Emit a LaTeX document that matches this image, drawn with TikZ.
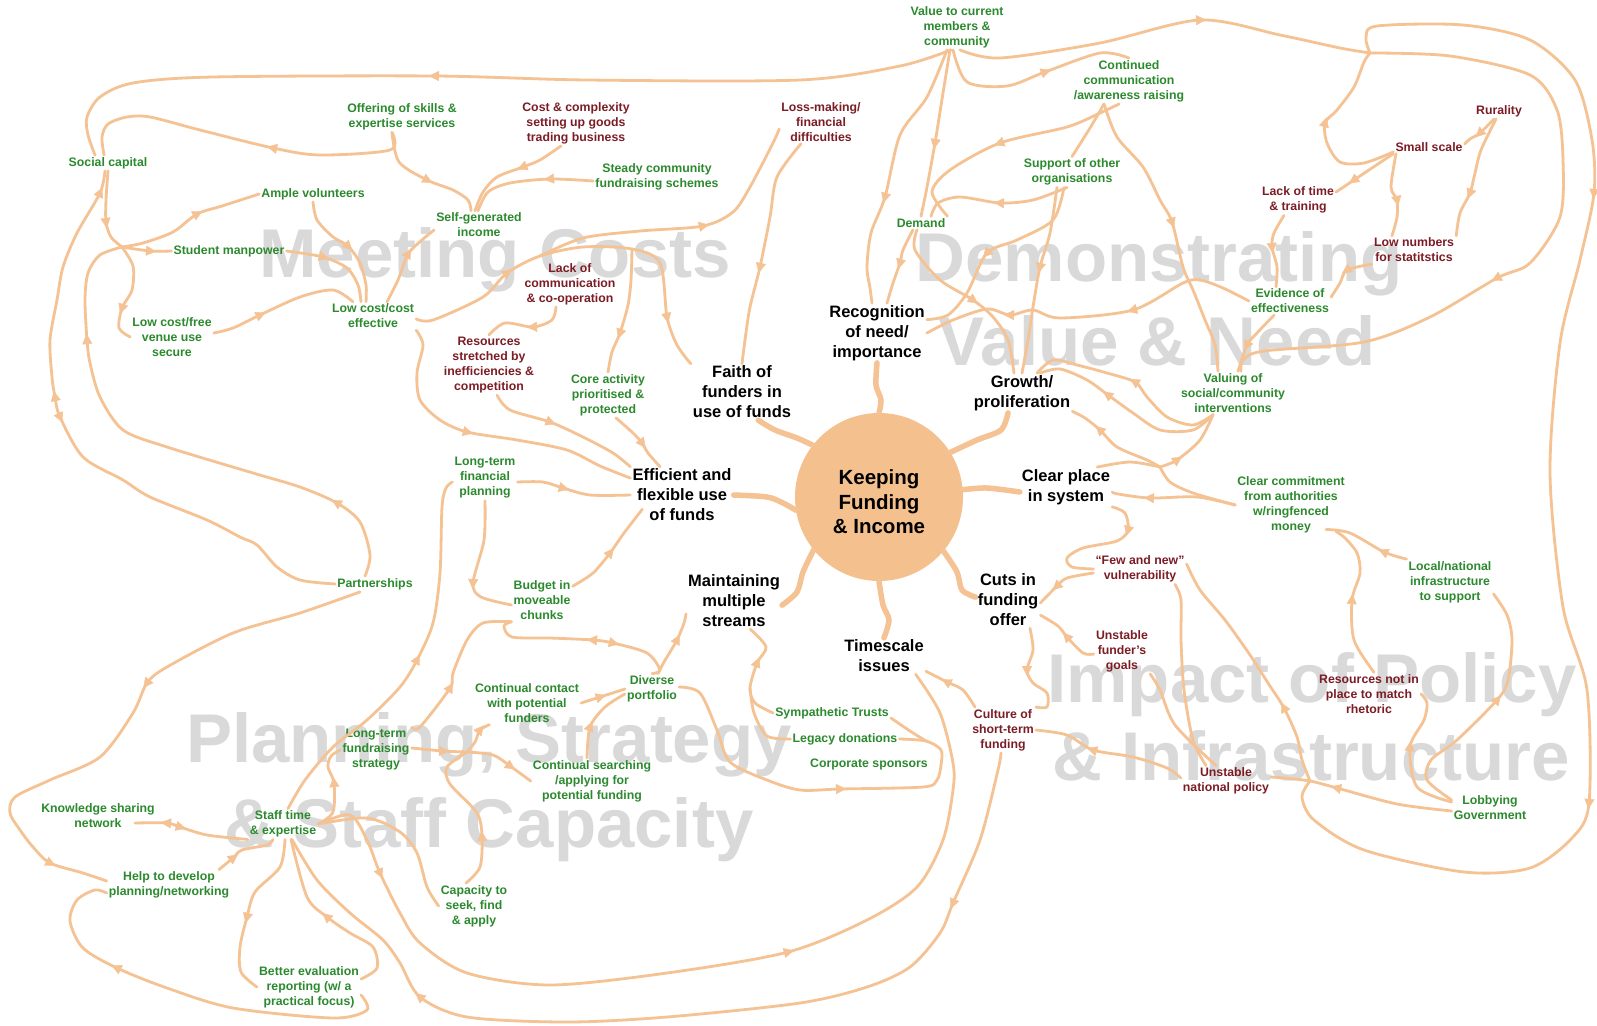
\documentclass[tikz,border=0pt]{standalone}
\usepackage{fontspec}
\setmainfont{Liberation Sans}
\usetikzlibrary{arrows.meta,calc}
\definecolor{gtext}{HTML}{2C8A2E}
\definecolor{rtext}{HTML}{7C1D26}
\definecolor{curve}{HTML}{F5C293}
\definecolor{hubc}{HTML}{F4C08E}
\definecolor{wmark}{HTML}{D9D9D9}
\newcommand\lblS{\fontsize{12.3}{15}\selectfont\bfseries}
\newcommand\lblB{\fontsize{16.5}{20}\selectfont\bfseries}
\newcommand\lblH{\fontsize{20.5}{24.5}\selectfont\bfseries}
\newcommand\lblW{\fontsize{69}{80}\selectfont\bfseries}
\tikzset{
  gl/.style={text=gtext,font=\lblS,align=center,inner sep=2pt},
  rl/.style={text=rtext,font=\lblS,align=center,inner sep=2pt},
  bl/.style={text=black,font=\lblB,align=center,inner sep=2pt},
  wm/.style={text=wmark,font=\lblW,inner sep=0pt,anchor=base},
  conn/.style={draw=curve,line width=2.8pt,line cap=round,line join=round},
  tent/.style={draw=curve,line width=5.5pt,line cap=round,line join=round},
  tipst/.style={draw=curve,fill=curve,line width=0.4pt,-{Triangle[length=10pt,width=10pt]}},
}
\newcommand\tip[3]{\draw[tipst] let \p1=#1, \p2=#2, \p3=#3, \n1={atan2((\y3)-(\y1),(\x3)-(\x1))} in (\p2) -- ++(\n1:6pt);}
\begin{document}
\begin{tikzpicture}[x=1pt,y=-1pt]
\useasboundingbox (0,0) rectangle (1597,1025);
\fill[white] (0,0) rectangle (1597,1025);
% watermarks
\node[wm] (w1) at (495,277) {Meeting Costs};
\node[wm] (w2) at (1159,281) {Demonstrating};
\node[wm] (w3) at (1157,365) {Value \& Need};
\node[wm] (w4) at (489,762) {Planning, Strategy};
\node[wm] (w5) at (489,847) {\& Staff Capacity};
\node[wm] (w6) at (1312,702) {Impact of Policy};
\node[wm] (w7) at (1311,780) {\& Infrastructure};
% labels
\node[gl] (sc) at (108,163) {Social capital};
\node[gl] (av) at (313,194) {Ample volunteers};
\node[gl] (sm) at (229,251) {Student manpower};
\node[gl] (lcv) at (172,337) {Low cost/free\\venue use\\secure};
\node[gl] (lcc) at (373,316) {Low cost/cost\\effective};
\node[gl] (off) at (402,117) {Offering of skills \&\\expertise services};
\node[rl] (cost) at (576,123) {Cost \& complexity\\setting up goods\\trading business};
\node[gl] (steady) at (657,177) {Steady community\\fundraising schemes};
\node[gl] (sg) at (479,225) {Self-generated\\income};
\node[rl] (lcom) at (570,284) {Lack of\\communication\\\& co-operation};
\node[rl] (loss) at (821,122) {Loss-making/\\financial\\difficulties};
\node[gl] (val) at (957,27) {Value to current\\members \&\\community};
\node[gl] (cont) at (1129,81) {Continued\\communication\\/awareness raising};
\node[gl] (sup) at (1072,172) {Support of other\\organisations};
\node[gl] (dem) at (921,223) {Demand};
\node[bl] (rec) at (877,333) {Recognition\\of need/\\importance};
\node[rl] (rur) at (1499,111) {Rurality};
\node[rl] (ss) at (1429,147) {Small scale};
\node[rl] (lot) at (1298,200) {Lack of time\\\& training};
\node[rl] (lown) at (1414,250) {Low numbers\\for statitstics};
\node[gl] (evi) at (1290,301) {Evidence of\\effectiveness};
\node[gl] (valu) at (1233,393) {Valuing of\\social/community\\interventions};
\node[gl] (ccom) at (1291,505) {Clear commitment\\from authorities\\w/ringfenced\\money};
\node[gl] (lni) at (1450,582) {Local/national\\infrastructure\\to support};
\node[rl] (rnp) at (1369,694) {Resources not in\\place to match\\rhetoric};
\node[gl] (lob) at (1490,808) {Lobbying\\Government};
\node[rl] (unp) at (1226,781) {Unstable\\national policy};
\node[bl] (grow) at (1022,393) {Growth/\\proliferation};
\node[circle,fill=hubc,minimum size=168pt,inner sep=0pt] (hub) at (879,497) {};
\node[font=\lblH,align=center,inner sep=0pt] (hubt) at (879,502) {Keeping\\Funding\\\& Income};
\node[bl] (clr) at (1066,487) {Clear place\\in system};
\node[bl] (cuts) at (1008,600) {Cuts in\\funding\\offer};
\node[bl] (time) at (884,656) {Timescale\\issues};
\node[rl] (few) at (1140,569) {“Few and new”\\vulnerability};
\node[rl] (uf) at (1122,651) {Unstable\\funder’s\\goals};
\node[bl] (faith) at (742,392) {Faith of\\funders in\\use of funds};
\node[rl] (rs) at (489,365) {Resources\\stretched by\\inefficiencies \&\\competition};
\node[gl] (core) at (608,395) {Core activity\\prioritised \&\\protected};
\node[bl] (eff) at (682,495) {Efficient and\\flexible use\\of funds};
\node[gl] (ltf) at (485,478) {Long-term\\financial\\planning};
\node[gl] (bud) at (542,600) {Budget in\\moveable\\chunks};
\node[bl] (main) at (734,601) {Maintaining\\multiple\\streams};
\node[gl] (part) at (375,584) {Partnerships};
\node[gl] (div) at (652,689) {Diverse\\portfolio};
\node[gl] (ccp) at (527,703) {Continual contact\\with potential\\funders};
\node[gl] (csr) at (592,781) {Continual searching\\/applying for\\potential funding};
\node[gl] (cap) at (474,906) {Capacity to\\seek, find\\\& apply};
\node[gl] (ltfs) at (376,750) {Long-term\\fundraising\\strategy};
\node[gl] (ksn) at (98,816) {Knowledge sharing\\network};
\node[gl] (staff) at (283,824) {Staff time\\\& expertise};
\node[gl] (help) at (169,885) {Help to develop\\planning/networking};
\node[gl] (bev) at (309,987) {Better evaluation\\reporting (w/ a\\practical focus)};
\node[gl] (sym) at (832,713) {Sympathetic Trusts};
\node[gl] (leg) at (845,739) {Legacy donations};
\node[gl] (corp) at (869,764) {Corporate sponsors};
\node[rl] (cult) at (1003,730) {Culture of\\short-term\\funding};
% junctions
\coordinate (j1) at (122,247);
\coordinate (j2) at (540,256);
\coordinate (j3) at (632,249);
\coordinate (j4) at (467,752);
\coordinate (j5) at (926,741);
\coordinate (j6) at (1310,781);
\coordinate (j7) at (750,688);
\coordinate (jR) at (1370,53);
\coordinate (jc) at (1160,467);
% tentacles
\draw[tent] plot[smooth] coordinates {(hub.90) (881,400) (876,385) (rec.south)};
\draw[tent] plot[smooth] coordinates {(hub.32) (977,440) (1001,430) (grow.-125)};
\draw[tent] plot[smooth] coordinates {(hub.5) (987,488) ([yshift=-5pt]clr.west)};
\draw[tent] plot[smooth] coordinates {(hub.-40) (957,572) (962,590) (cuts.175)};
\draw[tent] plot[smooth] coordinates {(hub.-90) (883,605) (889,620) (time.north)};
\draw[tent] plot[smooth] coordinates {(hub.-141) (803,572) (797,592) (main.-5)};
\draw[tent] plot[smooth] coordinates {(hub.-171) (783,503) (767,497) (eff.east)};
\draw[tent] plot[smooth] coordinates {(hub.142) (797,438) (775,430) (faith.-60)};
% Meeting costs region
\draw[conn] plot[smooth] coordinates {([xshift=-6pt]val.south) (900,66) (800,80) (587,80) (435,76) (213,77) (133,83) (100,97) (87,117) (88,135) ([xshift=-13pt]sc.north)};
\tip{(587,80)}{(435,76)}{(213,77)}
\draw[conn] plot[smooth] coordinates {([xshift=-10pt]off.south) (390,150) (320,155) (273,148) (200,130) (150,117) (127,117) (108,124) (102,137) ([xshift=-4pt]sc.north)};
\tip{(320,155)}{(273,148)}{(200,130)}
\draw[conn] plot[smooth] coordinates {([xshift=-10pt]off.south) (399,162) (427,180) (453,190) (468,200) ([xshift=-8pt]sg.north)};
\tip{(399,162)}{(427,180)}{(453,190)}
\draw[conn] plot[smooth] coordinates {([xshift=-15pt]cost.south) (540,160) (523,167) (497,177) (483,192) ([xshift=-4pt]sg.north)};
\tip{(540,160)}{(523,167)}{(497,177)}
\draw[conn] plot[smooth] coordinates {([yshift=-4pt]steady.west) (550,179) (510,183) (488,192) ([xshift=-1pt]sg.north)};
\tip{(590,175)}{(550,179)}{(510,183)}
\draw[conn] plot[smooth] coordinates {(sc.south) (106,200) (106,222) (111,237) (j1)};
\tip{(106,200)}{(106,222)}{(111,237)}
\draw[conn] plot[smooth] coordinates {(j1) (150,251) (sm.west)};
\tip{(j1)}{(150,251)}{(sm.west)}
\draw[conn] plot[smooth] coordinates {(j1) (143,243) (173,232) (197,214) (222,206) (av.west)};
\tip{(173,232)}{(197,214)}{(222,206)}
\draw[conn] plot[smooth] coordinates {(j1) (133,266) (132,290) (122,308) (119,328) (lcv.west)};
\tip{(132,290)}{(122,308)}{(119,328)}
\draw[conn] plot[smooth] coordinates {([xshift=-10pt]part.north) (370,555) (360,522) (337,503) (300,487) (253,473) (167,447) (123,430) (100,397) (90,363) (87,340) (85,300) (88,273) (100,255) (j1)};
\tip{(360,522)}{(337,503)}{(300,487)}
\tip{(90,363)}{(87,340)}{(85,300)}
\draw[conn] plot[smooth] coordinates {(part.west) (300,580) (277,567) (257,545) (240,537) (207,520) (150,497) (123,480) (83,457) (60,417) (55,397) (52,377) (50,340) (57,300) (63,267) (77,233) (100,193) ([xshift=-3pt]sc.south)};
\tip{(55,397)}{(60,417)}{(83,457)}
\tip{(60,417)}{(55,397)}{(52,377)}
\tip{(77,233)}{(100,193)}{(105,172)}
\draw[conn] plot[smooth] coordinates {(av.south) (317,220) (333,237) (348,246) (360,263) (366,285) ([xshift=-7pt]lcc.north)};
\tip{(333,237)}{(348,246)}{(360,263)}
\draw[conn] plot[smooth] coordinates {(sm.east) (323,257) (347,268) (358,285) ([xshift=-12pt]lcc.north)};
\tip{(sm.east)}{(323,257)}{(347,268)}
\draw[conn] plot[smooth] coordinates {([yshift=4pt]lcv.east) (233,328) (260,315) (300,297) (333,290) ([xshift=-20pt]lcc.north)};
\tip{(233,328)}{(260,315)}{(300,297)}
\draw[conn] plot[smooth] coordinates {([xshift=14pt]lcc.north) (398,280) (408,254) (422,240) ([yshift=-5pt]sg.west)};
\tip{(398,280)}{(408,254)}{(422,240)}
\draw[conn] plot[smooth] coordinates {([yshift=-3pt]lcc.east) (433,320) (483,297) (507,273) (j2) (583,247) (j3) (660,263) (667,317) (677,345) (faith.north west)};
\tip{(483,297)}{(507,273)}{(j2)}
\tip{(660,263)}{(667,317)}{(677,345)}
\draw[conn] plot[smooth] coordinates {(j2) (583,238) (640,231) (703,226) (733,212) (750,187) (773,143) ([yshift=-7pt]loss.west)};
\tip{(640,231)}{(703,226)}{(733,212)}
\draw[conn] plot[smooth] coordinates {(j3) (631,280) (628,305) (620,333) (612,352) (core.north)};
\tip{(628,305)}{(620,333)}{(612,352)}
\draw[conn] plot[smooth] coordinates {([xshift=-14pt]lcom.south) (552,320) (533,327) (505,323) (rs.north)};
\tip{(552,320)}{(533,327)}{(505,323)}
\draw[conn] plot[smooth] coordinates {([xshift=-20pt]loss.south) (777,177) (770,217) (760,267) (750,307) (745,340) (faith.north)};
\tip{(770,217)}{(760,267)}{(750,307)}
% efficient
\draw[conn] plot[smooth] coordinates {([xshift=8pt]rs.south) (510,410) (550,422) (583,437) (613,453) (eff.north west)};
\tip{(510,410)}{(550,422)}{(583,437)}
\draw[conn] plot[smooth] coordinates {(lcc.south east) (423,345) (417,373) (420,400) (440,420) (467,432) (517,440) (567,450) (600,466) ([yshift=17pt]eff.west)};
\tip{(440,420)}{(467,432)}{(517,440)}
\draw[conn] plot[smooth] coordinates {([xshift=8pt]core.south) (633,433) (642,443) (648,453) ([xshift=-22pt]eff.north)};
\tip{(633,433)}{(642,443)}{(648,453)}
\draw[conn] plot[smooth] coordinates {([yshift=-4pt]ltf.east) (543,482) (563,488) (590,495) (eff.west)};
\tip{(543,482)}{(563,488)}{(590,495)}
\draw[conn] plot[smooth] coordinates {(ltf.south) (484,540) (473,583) (481,597) ([yshift=-5pt]bud.west)};
\tip{(484,540)}{(473,583)}{(481,597)}
\draw[conn] plot[smooth] coordinates {([yshift=-8pt]bud.north east) (593,573) (610,553) (624,533) ([xshift=12pt,yshift=14pt]eff.south west)};
\tip{(593,573)}{(610,553)}{(624,533)}
\draw[conn] plot[smooth] coordinates {(bud.south west) (504,626) (512,637) (550,638) (593,640) (613,643) (647,653) (660,670) (div.north)};
\tip{(613,643)}{(593,640)}{(550,638)}
\tip{(593,640)}{(613,643)}{(647,653)}
\draw[conn] plot[smooth] coordinates {([xshift=6pt]div.north) (664,662) (677,640) (684,623) (main.-165)};
\tip{(664,662)}{(677,640)}{(684,623)}
\draw[conn] plot[smooth] coordinates {(ccp.east) (600,697) (div.west)};
\tip{(ccp.east)}{(600,697)}{(div.west)}
\draw[conn] plot[smooth] coordinates {([xshift=-5pt]csr.north) (590,727) (605,707) ([yshift=-5pt]div.west)};
\tip{(587,755)}{(590,727)}{(605,707)}
% planning
\draw[conn] plot[smooth] coordinates {([yshift=2pt]ltfs.east) (443,751) (j4)};
\tip{(ltfs.east)}{(443,751)}{(j4)}
\draw[conn] plot[smooth] coordinates {(j4) (475,742) (480,730) (ccp.-150)};
\tip{(475,742)}{(480,730)}{(ccp.-150)}
\draw[conn] plot[smooth] coordinates {(j4) (493,755) (510,766) (csr.west)};
\tip{(493,755)}{(510,766)}{(csr.west)}
\draw[conn] plot[smooth] coordinates {([xshift=-8pt]cap.north) (480,867) (482,837) (477,813) (450,784) (447,767) (j4)};
\tip{(480,867)}{(482,837)}{(477,813)}
\draw[conn] plot[smooth] coordinates {(ltfs.north east) (420,727) (450,688) (453,673) (467,640) (483,623) (bud.south west)};
\tip{(420,727)}{(450,688)}{(453,673)}
\draw[conn] plot[smooth] coordinates {(staff.east) (333,812) (334,783) (328,767) (331,756) (ltfs.west)};
\tip{(333,812)}{(334,783)}{(328,767)}
\draw[conn] plot[smooth] coordinates {([xshift=5pt]staff.north) (305,780) (333,747) (367,720) (400,687) (417,660) (433,623) (440,573) (442,507) (446,488) ([yshift=-4pt]ltf.west)};
\tip{(400,687)}{(417,660)}{(433,623)}
\draw[conn] plot[smooth] coordinates {([xshift=-15pt]part.south) (300,613) (233,633) (167,667) (147,683) (133,713) (100,757) (50,780) (15,797) (10,813) (20,830) (33,847) (50,863) (83,873) ([yshift=4pt]help.west)};
\tip{(167,667)}{(147,683)}{(133,713)}
\tip{(33,847)}{(50,863)}{(83,873)}
\draw[conn] plot[smooth] coordinates {([xshift=50pt]help.north) (233,858) (242,850) (267,845) ([xshift=-10pt]staff.south)};
\tip{(220,866)}{(233,858)}{(242,850)}
\draw[conn] plot[smooth] coordinates {([xshift=-22pt,yshift=-7pt]ksn.east) (167,823) (180,827) (207,835) (staff.south west)};
\tip{(180,827)}{(167,823)}{(135,823)}
\tip{(167,823)}{(180,827)}{(207,835)}
\draw[conn] plot[smooth] coordinates {([yshift=-8pt]bev.east) (367,1010) (333,1018) (233,1008) (167,988) (117,968) (83,948) (70,921) (77,900) (95,890) ([yshift=-8pt]help.west)};
\tip{(167,988)}{(117,968)}{(83,948)}
\draw[conn] plot[smooth] coordinates {([xshift=2pt]staff.south) (280,867) (255,892) (247,917) (240,947) (241,972) (bev.west)};
\tip{(255,892)}{(247,917)}{(240,947)}
\draw[conn] plot[smooth] coordinates {([yshift=8pt]bev.east) (377,968) (373,947) (350,933) (327,917) (307,897) ([xshift=8pt]staff.south)};
\tip{(350,933)}{(327,917)}{(307,897)}
\draw[conn] plot[smooth] coordinates {(staff.east) (350,815) (367,840) (380,873) (400,913) (420,943) (467,973) (550,985) (667,973) (788,952) (867,920) (917,887) (943,840) (953,790) (953,763) (940,713) (time.-30)};
\tip{(367,840)}{(380,873)}{(400,913)}
\tip{(667,973)}{(788,952)}{(867,920)}
\draw[conn] plot[smooth] coordinates {([xshift=-2pt]cult.south) (998,770) (980,840) (953,903) (940,933) (910,967) (867,987) (800,1003) (667,1017) (567,1022) (467,1017) (420,997) (400,963) (383,940) (350,913) (317,880) (staff.-60)};
\tip{(980,840)}{(953,903)}{(940,933)}
\tip{(467,1017)}{(420,997)}{(400,963)}
\draw[conn] plot[smooth] coordinates {(staff.east) (367,818) (400,832) (417,853) (427,887) (cap.west)};
% maintaining
\draw[conn] plot[smooth] coordinates {(sym.west) (755,703) (j7) (757,663) (766,647) (main.-60)};
\tip{(j7)}{(757,663)}{(766,647)}
\draw[conn] plot[smooth] coordinates {(leg.west) (767,736) (754,713) (j7)};
\draw[conn] plot[smooth] coordinates {([yshift=2pt]div.east) (700,693) (717,730) (730,762) (767,780) (800,790) (840,789) (923,787) (937,780) (941,765) (941,750) (j5) (leg.east)};
\tip{(800,790)}{(840,789)}{(923,787)}
\draw[conn] plot[smooth] coordinates {([yshift=-5pt]sym.east) (910,731) (j5)};
% policy
\draw[conn] plot[smooth] coordinates {([xshift=-28pt]cult.north) (963,690) (947,682) (time.-20)};
\tip{(963,690)}{(947,682)}{(926,671)}
\draw[conn] plot[smooth] coordinates {([xshift=22pt]cuts.south) (1033,650) (1027,670) (1033,683) (1047,693) (1047,707) (cult.north east)};
\tip{(1033,650)}{(1027,670)}{(1033,683)}
\draw[conn] plot[smooth] coordinates {([yshift=-3pt]uf.west) (1083,653) (1067,637) (1058,626) (cuts.-25)};
\tip{(1083,653)}{(1067,637)}{(1058,626)}
\draw[conn] plot[smooth] coordinates {(clr.south east) (1125,513) (1128,530) (1117,541) (1083,548) (1067,558) (1072,567) (few.west)};
\tip{(1125,513)}{(1128,530)}{(1117,541)}
\draw[conn] plot[smooth] coordinates {([yshift=-4pt]few.west) (1067,578) (1057,586) (cuts.-5)};
\tip{(1067,578)}{(1057,586)}{(1040,603)}
\draw[conn] plot[smooth] coordinates {(ccom.west) (1197,497) (1150,498) (1118,494) ([yshift=-5pt]clr.east)};
\tip{(1197,497)}{(1150,498)}{(1118,494)}
\draw[conn] plot[smooth] coordinates {(lni.north west) (1384,552) (1350,533) ([xshift=35pt,yshift=6pt]ccom.south)};
\tip{(1408,558)}{(1384,552)}{(1350,533)}
\draw[conn] plot[smooth] coordinates {([xshift=5pt]rnp.north) (1354,640) (1352,600) (1360,573) (1357,553) (1345,538) ([xshift=45pt,yshift=4pt]ccom.south)};
\tip{(1354,640)}{(1352,600)}{(1360,573)}
\draw[conn] plot[smooth] coordinates {([yshift=6pt]lob.west) (1417,787) (1410,747) (1424,720) (1427,703) (rnp.east)};
\tip{(1417,787)}{(1410,747)}{(1424,720)}
\draw[conn] plot[smooth] coordinates {([yshift=8pt]lob.west) (1427,780) (1431,760) (1457,740) (1497,700) (1508,680) (1512,640) (1507,615) ([yshift=-12pt]lni.east)};
\tip{(1457,740)}{(1497,700)}{(1508,680)}
\draw[conn] plot[smooth] coordinates {([yshift=-3pt]lob.west) (1397,804) (1337,788) (j6) (1284,778) ([yshift=4pt]unp.east)};
\tip{(1397,804)}{(1337,788)}{(j6)}
\draw[conn] plot[smooth] coordinates {(j6) (1302,760) (1297,737) (1284,708) (1268,683) (1250,655) (1225,620) (1200,590) ([yshift=5pt]few.east)};
\tip{(1297,737)}{(1284,708)}{(1268,683)}
\draw[conn] plot[smooth] coordinates {([xshift=35pt]few.south) (1181,600) (1181,640) (1184,690) (1193,740) ([xshift=-20pt]unp.north)};
\draw[conn] plot[smooth] coordinates {(uf.south east) (1160,690) (1175,725) ([xshift=-10pt]unp.north)};
\draw[conn] plot[smooth] coordinates {([yshift=3pt]unp.west) (1167,768) (1133,757) (1093,750) (1067,735) (cult.east)};
\tip{(1133,757)}{(1093,750)}{(1067,735)}
% demonstrating
\draw[conn] plot[smooth] coordinates {([xshift=3pt]val.south) (1000,58) (1100,43) (1200,20) (1280,35) (1340,48) (jR)};
\tip{(1100,43)}{(1200,20)}{(1280,35)}
\draw[conn] plot[smooth] coordinates {(jR) (1366,38) (1377,26) (1463,25) (1530,40) (1575,80) (1592,140) (1594,193) (1580,260) (1560,343) (1550,473) (1563,607) (1587,690) (1589,803) (1572,838) (1530,868) (1464,872) (1364,850) (1314,820) (1302,797) (j6)};
\tip{(1592,140)}{(1594,193)}{(1580,260)}
\tip{(1587,690)}{(1589,803)}{(1572,838)}
\draw[conn] plot[smooth] coordinates {(jR) (1450,56) (1530,75) (1557,110) (1563,160) (1560,217) (1530,263) (1497,278) (1430,317) (1364,342) (1264,351) (1243,360) ([xshift=8pt]valu.north)};
\tip{(1530,263)}{(1497,278)}{(1430,317)}
\draw[conn] plot[smooth] coordinates {([yshift=-5pt]ss.west) (1364,163) (1340,162) (1327,143) (1325,123) (1337,110) (1354,87) (1364,62) (jR)};
\tip{(1327,143)}{(1325,123)}{(1337,110)}
\draw[conn] plot[smooth] coordinates {([xshift=-5pt]rur.south) (1480,133) (1470,139) ([yshift=3pt]ss.east)};
\tip{(1494,116)}{(1480,133)}{(1470,139)}
\draw[conn] plot[smooth] coordinates {([xshift=-3pt]rur.south) (1481,150) (1475,173) (1470,193) (1460,213) (lown.north east)};
\tip{(1475,173)}{(1470,193)}{(1460,213)}
\draw[conn] plot[smooth] coordinates {(ss.south west) (1354,180) ([yshift=8pt]lot.east)};
\tip{(1394,152)}{(1354,180)}{(1336,192)}
\draw[conn] plot[smooth] coordinates {([xshift=-33pt]ss.south) (1391,187) (1397,200) (1397,217) ([xshift=-22pt]lown.north)};
\tip{(1391,187)}{(1397,200)}{(1397,217)}
\draw[conn] plot[smooth] coordinates {([xshift=-14pt]lot.south) (1274,233) (1272,247) (1277,267) ([xshift=-14pt]evi.north)};
\tip{(1274,233)}{(1272,247)}{(1277,267)}
\draw[conn] plot[smooth] coordinates {(lown.south west) (1347,270) (1340,283) ([yshift=4pt]evi.east)};
\tip{(1372,262)}{(1347,270)}{(1340,283)}
\draw[conn] plot[smooth] coordinates {([xshift=-16pt]evi.south) (1257,333) (1247,345) ([xshift=5pt]valu.north)};
\tip{(1257,333)}{(1247,345)}{(1238,367)}
\draw[conn] plot[smooth] coordinates {(evi.west) (1223,288) (1200,280) (1183,283) (1133,310) (1060,318) (1033,310) (1010,315) (987,309) (953,320) (rec.east)};
\tip{(1183,283)}{(1133,310)}{(1060,318)}
\tip{(1033,310)}{(1010,315)}{(987,309)}
\draw[conn] plot[smooth] coordinates {([xshift=-7pt]val.south) (943,93) (935,143) (927,187) (dem.north)};
\tip{(943,93)}{(935,143)}{(927,187)}
\draw[conn] plot[smooth] coordinates {([xshift=-10pt]val.south) (927,97) (900,135) (885,197) (871,233) (867,267) (870,288) ([xshift=-5pt]rec.north)};
\tip{(900,135)}{(885,197)}{(871,233)}
\draw[conn] plot[smooth] coordinates {([xshift=-4pt]val.south) (967,82) (1007,86) (1045,72) (1100,53) (cont.north)};
\tip{(1007,86)}{(1045,72)}{(1100,53)}
\draw[conn] plot[smooth] coordinates {([xshift=-10pt]cont.south) (1100,113) (1067,127) (1000,143) (950,170) (932,192) (dem.north east)};
\tip{(1067,127)}{(1000,143)}{(950,170)}
\draw[conn] plot[smooth] coordinates {([xshift=-25pt]cont.south) (1090,128) (sup.north)};
\draw[conn] plot[smooth] coordinates {([xshift=-25pt]cont.south) (1117,137) (1143,167) (1160,200) (1172,222) (1183,267) (1193,290) (1205,320) (1215,345) ([xshift=-15pt]valu.north)};
\tip{(1160,200)}{(1172,222)}{(1183,267)}
\draw[conn] plot[smooth] coordinates {([xshift=-5pt]sup.south) (1033,200) (1000,203) (960,197) (938,203) ([xshift=10pt]dem.north)};
\tip{(1033,200)}{(1000,203)}{(960,197)}
\draw[conn] plot[smooth] coordinates {([xshift=-15pt]sup.south) (1050,233) (1040,267) (1033,307) (1028,340) (grow.north)};
\tip{(1050,233)}{(1040,267)}{(1033,307)}
\draw[conn] plot[smooth] coordinates {([xshift=-8pt]sup.south) (1053,220) (1017,240) (987,253) (967,293) (948,315) (rec.15)};
\tip{(1017,240)}{(987,253)}{(967,293)}
\draw[conn] plot[smooth] coordinates {([xshift=-8pt]dem.south) (903,250) (900,263) (893,283) ([xshift=10pt]rec.north)};
\tip{(903,250)}{(900,263)}{(893,283)}
\draw[conn] plot[smooth] coordinates {([xshift=-4pt]dem.south) (915,250) (940,280) (973,300) (993,317) (1008,340) ([xshift=-8pt]grow.north)};
\tip{(940,280)}{(973,300)}{(993,317)}
% valuing / growth / clear commitment
\draw[conn] plot[smooth] coordinates {([xshift=-20pt]valu.south) (1193,425) (1167,417) (1147,397) (1135,382) (1107,373) (1077,365) (1053,360) ([xshift=15pt]grow.north)};
\tip{(1147,397)}{(1135,382)}{(1107,373)}
\draw[conn] plot[smooth] coordinates {([xshift=-20pt]valu.south) (1193,430) (1160,430) (1133,413) (1108,395) (1087,380) (1060,369) ([xshift=18pt]grow.north)};
\tip{(1133,413)}{(1108,395)}{(1087,380)}
\draw[conn] plot[smooth] coordinates {(ccom.west) (1193,493) (1170,482) (jc)};
\draw[conn] plot[smooth] coordinates {(jc) (1147,460) (1117,447) (1100,430) (1085,418) (grow.-20)};
\tip{(1117,447)}{(1100,430)}{(1085,418)}
\draw[conn] plot[smooth] coordinates {(jc) (1177,460) (1200,440) ([xshift=-20pt]valu.south)};
\tip{(jc)}{(1177,460)}{(1200,440)}
\draw[conn] plot[smooth] coordinates {([xshift=-15pt]clr.north east) (1130,462) (jc)};
\end{tikzpicture}
\end{document}
